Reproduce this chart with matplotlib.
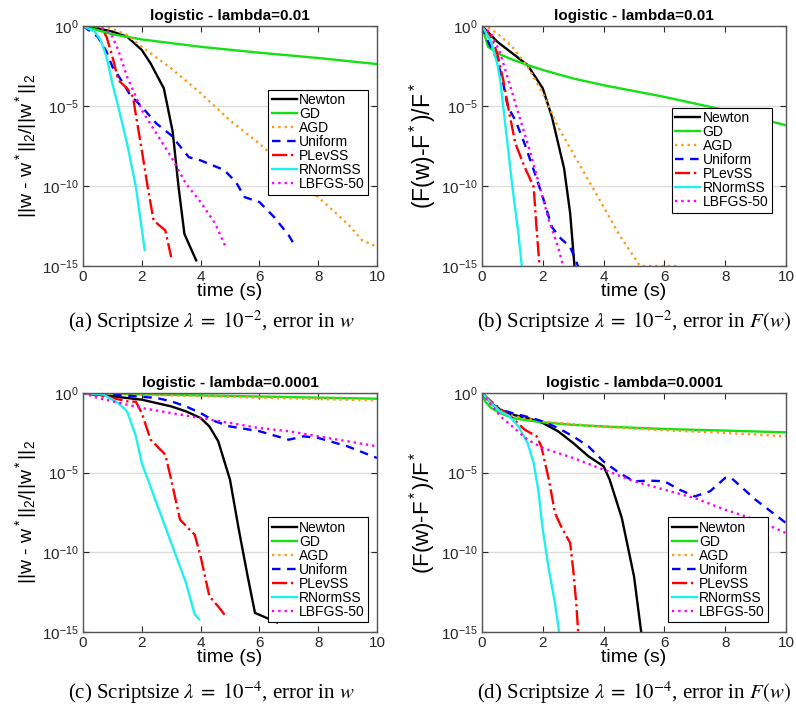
import matplotlib
matplotlib.use('Agg')
import matplotlib.pyplot as plt
from matplotlib.ticker import FixedLocator, NullLocator, LogFormatterMathtext

plt.rcParams['font.family'] = ['Liberation Sans', 'DejaVu Sans']
plt.rcParams['mathtext.fontset'] = 'custom'
plt.rcParams['mathtext.rm'] = 'Liberation Sans'
plt.rcParams['mathtext.it'] = 'Liberation Sans:italic'

methods = ['Newton', 'GD', 'AGD', 'Uniform', 'PLevSS', 'RNormSS', 'LBFGS-50']
colors = ['black', '#14e014', '#ff9a1a', '#0000ff', '#ff0000', '#1ef0f0', '#ff00ff']
styles = ['-', '-', ':', (0, (3.6, 2.8)), '-.', '-', ':']

# values are (time, log10 of error) pairs
# (a) lambda = 0.01, error in w
err_w_1e2 = {
    'Newton': ([0, 0.5, 1, 1.5, 2, 2.3, 2.75, 3.05, 3.25, 3.45, 3.85],
               [0, -0.15, -0.35, -0.67, -1.5, -2.34, -3.9, -6.6, -10.06, -13.0, -14.65]),
    'GD': ([0, 1, 2, 4, 6, 8, 10],
           [0, -0.52, -0.84, -1.3, -1.67, -2.0, -2.38]),
    'AGD': ([0, 0.8, 1.5, 2, 3, 4, 5, 6, 7, 8, 9, 9.5, 10],
            [0, -0.05, -0.56, -1.3, -2.65, -4.2, -5.9, -7.35, -9.0, -10.7, -12.36, -13.4, -13.8]),
    'Uniform': ([0, 0.5, 0.8, 1.0, 1.3, 1.6, 2.0, 2.5, 3.0, 3.6, 4.0, 4.8, 5.2, 5.5, 6.0, 6.5, 7.0, 7.2],
                [0, -0.67, -1.6, -2.55, -3.38, -4.3, -5.05, -6.1, -6.83, -8.2, -8.4, -9.0, -9.75, -10.7, -11.0, -11.94, -13.09, -13.7]),
    'PLevSS': ([0, 0.6, 0.8, 1.0, 1.2, 1.5, 1.7, 1.8, 2.0, 2.2, 2.4, 2.8, 3.0],
               [0, -0.05, -0.67, -1.92, -3.38, -3.9, -4.43, -5.57, -7.77, -10.06, -12.15, -12.78, -14.45]),
    'RNormSS': ([0, 0.4, 0.6, 0.8, 1.0, 1.2, 1.5, 1.8, 2.1],
                [0, -0.35, -0.88, -1.92, -3.6, -5.05, -7.35, -10.06, -14.0]),
    'LBFGS-50': ([0, 0.5, 0.8, 1.0, 1.2, 1.5, 2.0, 2.5, 3.0, 3.5, 4.0, 4.5, 4.85],
                 [0, -0.05, -0.25, -0.67, -1.5, -3.17, -5.26, -6.72, -8.18, -9.85, -11.0, -12.36, -13.8]),
}

# (b) lambda = 0.01, error in F(w)
err_f_1e2 = {
    'Newton': ([0, 0.5, 1, 1.5, 2, 2.3, 2.7, 2.9, 3.05],
               [0, -0.98, -1.71, -2.44, -3.9, -5.68, -8.9, -11.7, -15.2]),
    'GD': ([0, 0.2, 0.5, 1.0, 1.5, 2, 3, 4, 6, 8, 10],
           [0, -1.3, -1.7, -2.1, -2.44, -2.75, -3.28, -3.7, -4.43, -5.26, -6.2]),
    'AGD': ([0, 0.2, 0.5, 1.0, 1.5, 2, 2.5, 3, 4, 4.5, 5.2, 5.5, 6.4],
            [0, -0.1, -0.46, -1.3, -2.55, -4.2, -6.3, -7.97, -11.3, -13.0, -15.0, -15.0, -15.0]),
    'Uniform': ([0, 0.2, 0.5, 0.7, 0.85, 1.1, 1.4, 1.7, 2.0, 2.3, 2.6, 2.9, 3.2],
                [0, -0.98, -2.1, -3.6, -5.05, -5.9, -7.35, -9.0, -10.7, -12.57, -13.3, -13.8, -15.2]),
    'PLevSS': ([0, 0.3, 0.5, 0.7, 0.9, 1.1, 1.4, 1.7, 1.8, 1.9],
               [0, -0.7, -1.7, -3.38, -5.47, -7.35, -8.8, -10.06, -12.78, -15.2]),
    'RNormSS': ([0, 0.3, 0.5, 0.6, 0.8, 1.0, 1.2, 1.32],
                [0, -0.98, -2.34, -3.38, -6.72, -10.06, -13.0, -15.2]),
    'LBFGS-50': ([0, 0.3, 0.6, 0.8, 1.0, 1.3, 1.6, 1.9, 2.2, 2.5, 2.7],
                 [0, -0.46, -1.7, -2.96, -4.2, -6.1, -7.97, -10.06, -12.15, -13.8, -15.2]),
}

# (c) lambda = 0.0001, error in w
err_w_1e4 = {
    'Newton': ([0, 1, 2, 3, 3.5, 4, 4.3, 4.6, 5.0, 5.3, 5.6, 5.85, 6.6],
               [0, -0.21, -0.42, -0.84, -1.15, -1.57, -2.1, -3.03, -5.44, -8.58, -11.5, -13.8, -14.4]),
    'GD': ([0, 2, 4, 6, 8, 10],
           [0, -0.08, -0.15, -0.22, -0.29, -0.36]),
    'AGD': ([0, 2, 4, 6, 8, 10],
            [0, -0.1, -0.2, -0.29, -0.38, -0.46]),
    'Uniform': ([0, 1.5, 2.5, 3.0, 3.5, 4, 4.5, 5, 6, 7, 7.5, 8, 9, 10],
                [0, -0.17, -0.31, -0.52, -0.84, -1.26, -1.78, -2.1, -2.4, -2.93, -2.72, -2.82, -3.35, -4.08]),
    'PLevSS': ([0, 1, 1.5, 1.8, 2.0, 2.3, 2.8, 3.0, 3.3, 3.8, 4.0, 4.3, 4.6, 4.85],
               [0, -0.31, -0.52, -0.55, -1.26, -2.93, -3.87, -5.44, -7.95, -8.9, -10.25, -12.76, -13.4, -14.0]),
    'RNormSS': ([0, 0.7, 1.2, 1.5, 1.8, 2.0, 2.5, 3.0, 3.5, 3.8, 3.95],
                [0, -0.1, -0.63, -1.15, -2.72, -4.4, -6.9, -9.4, -11.9, -13.9, -14.2]),
    'LBFGS-50': ([0, 0.5, 1, 2, 3, 4, 5, 6, 7, 8, 9, 10],
                 [0, -0.31, -0.52, -0.94, -1.26, -1.57, -1.88, -2.2, -2.4, -2.72, -3.03, -3.35]),
}

# (d) lambda = 0.0001, error in F(w)
err_f_1e4 = {
    'Newton': ([0, 0.3, 0.6, 1, 1.5, 2, 2.5, 3, 3.5, 4.0, 4.2, 4.6, 5.0, 5.25],
               [0, -0.63, -1.05, -1.36, -1.57, -1.88, -2.4, -3.14, -3.97, -4.6, -5.44, -7.85, -11.5, -15.2]),
    'GD': ([0, 0.1, 0.3, 0.6, 1, 1.5, 2, 3, 4, 6, 8, 10],
           [0, -0.52, -0.94, -1.26, -1.57, -1.72, -1.84, -2.0, -2.1, -2.26, -2.36, -2.47]),
    'AGD': ([0, 0.3, 0.6, 1, 1.5, 2, 4, 6, 8, 10],
            [0, -0.73, -1.15, -1.42, -1.63, -1.78, -2.13, -2.34, -2.5, -2.72]),
    'Uniform': ([0, 0.3, 0.6, 1, 1.5, 2, 2.5, 3, 3.5, 4, 4.5, 5, 5.5, 6, 6.5, 7, 7.5, 8, 8.2, 9, 9.5, 10],
                [0, -0.68, -1.05, -1.26, -1.5, -1.78, -2.2, -2.72, -3.35, -4.3, -5.0, -5.54, -5.5, -5.54, -6.07, -6.49, -6.17, -5.33, -5.33, -6.7, -7.43, -8.16]),
    'PLevSS': ([0, 0.3, 0.7, 1.0, 1.4, 1.8, 1.95, 2.2, 2.4, 2.6, 2.9, 3.0, 3.1, 3.17],
               [0, -0.52, -1.15, -1.57, -2.3, -2.72, -3.35, -5.44, -7.53, -8.37, -9.41, -11.09, -13.18, -15.2]),
    'RNormSS': ([0, 0.3, 0.6, 0.9, 1.2, 1.5, 1.7, 1.85, 2.0, 2.2, 2.4, 2.55],
                [0, -0.63, -1.15, -1.46, -2.1, -3.14, -4.4, -6.07, -8.58, -11.09, -13.18, -15.2]),
    'LBFGS-50': ([0, 0.3, 0.6, 1.0, 1.5, 2, 3, 4, 5, 6, 7, 8, 9, 10],
                 [0, -0.73, -1.46, -2.1, -2.93, -3.45, -4.08, -4.81, -5.54, -6.07, -6.6, -7.32, -7.95, -8.79]),
}

titles = ['logistic - lambda=0.01', 'logistic - lambda=0.01',
          'logistic - lambda=0.0001', 'logistic - lambda=0.0001']
ylabels = [r'||w - w$^*$||$_2$/||w$^*$||$_2$', r'(F(w)-F$^*$)/F$^*$',
           r'||w - w$^*$||$_2$/||w$^*$||$_2$', r'(F(w)-F$^*$)/F$^*$']
ylabel_sizes = [14, 16.5, 14, 16]
captions = [r'(a) Scriptsize $\lambda\;=\;10^{-2}$, error in $w$',
            r'(b) Scriptsize $\lambda\;=\;10^{-2}$, error in $F(w)$',
            r'(c) Scriptsize $\lambda\;=\;10^{-4}$, error in $w$',
            r'(d) Scriptsize $\lambda\;=\;10^{-4}$, error in $F(w)$']
panels = [err_w_1e2, err_f_1e2, err_w_1e4, err_f_1e4]

W, H = 796, 713
fig = plt.figure(figsize=(W / 100, H / 100), dpi=100)

# axes boxes in pixels: left, top, right, bottom
boxes = [(83, 26, 377, 266), (482, 26, 786, 266),
         (83, 393, 377, 632), (482, 393, 786, 632)]
leg_anchor = [(0.63, 0.735), (0.625, 0.66), (0.63, 0.48), (0.613, 0.48)]
cap_pos = [(211, 322), (634, 322), (211, 693), (634, 693)]

for i, data in enumerate(panels):
    l, t, r, b = boxes[i]
    ax = fig.add_axes([l / W, 1 - b / H, (r - l) / W, (b - t) / H])
    for m, c, ls in zip(methods, colors, styles):
        tt, ee = data[m]
        ax.plot(tt, [10.0 ** e for e in ee], color=c, ls=ls, lw=1.7, label=m)
    ax.set_yscale('log')
    ax.set_ylim(1e-15, 1)
    ax.set_xlim(0, 10)
    ax.set_xticks([0, 2, 4, 6, 8, 10])
    ax.yaxis.set_major_locator(FixedLocator([1e-15, 1e-10, 1e-5, 1]))
    ax.yaxis.set_major_formatter(LogFormatterMathtext())
    ax.yaxis.set_minor_locator(NullLocator())
    ax.yaxis.grid(True, color='#dcdcdc', lw=1)
    ax.set_axisbelow(True)
    ax.tick_params(direction='in', top=True, right=True, length=4, width=0.8,
                   labelsize=11, colors='#262626', pad=3)
    for s in ax.spines.values():
        s.set_color('#555555')
        s.set_linewidth(1.0)
    ax.set_title(titles[i], fontsize=11, fontweight='bold', pad=4)
    ax.set_xlabel('time (s)', fontsize=14, labelpad=-1)
    ax.set_ylabel(ylabels[i], fontsize=ylabel_sizes[i], labelpad=2)
    leg = ax.legend(loc='upper left', bbox_to_anchor=leg_anchor[i], fontsize=10,
                    handlelength=1.8, handletextpad=0.15, borderpad=0.25,
                    labelspacing=0.0, borderaxespad=0, fancybox=False,
                    framealpha=1, edgecolor='black')
    leg.get_frame().set_linewidth(0.8)
    cx, cy = cap_pos[i]
    fig.text(cx / W, 1 - cy / H, captions[i], ha='center', va='center',
             fontsize=15, family='Liberation Serif', math_fontfamily='stix')

fig.savefig('out.png', dpi=100)
